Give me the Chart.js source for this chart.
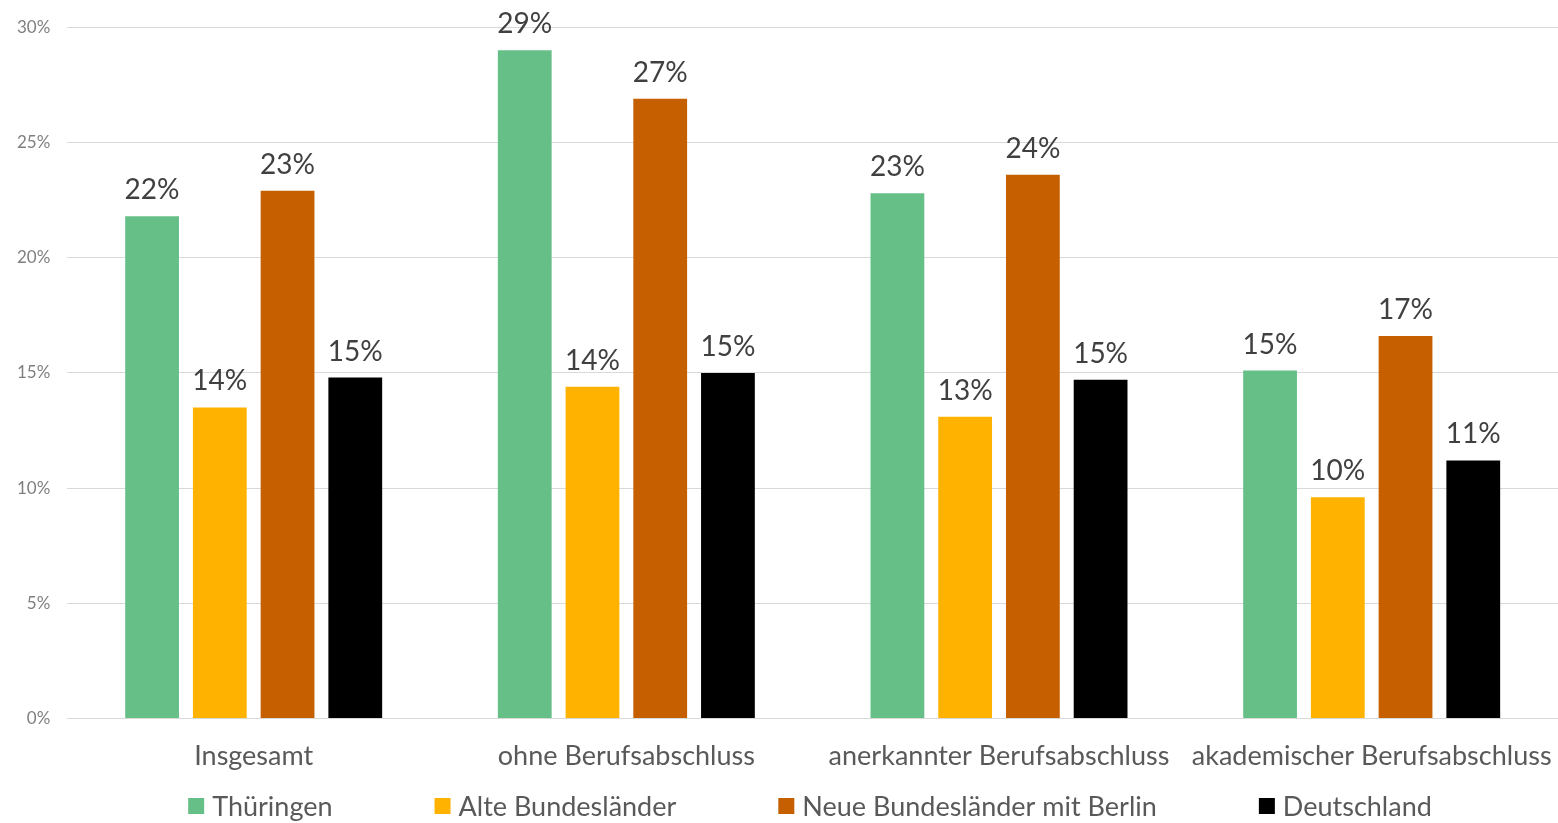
<!DOCTYPE html>
<html>
<head>
<meta charset="utf-8">
<script src="https://cdn.jsdelivr.net/npm/chart.js@4"></script>
<style>
  html, body { margin: 0; padding: 0; background: #fff; }
  #wrap { width: 1558px; height: 823px; }
</style>
</head>
<body>
<div id="wrap"><canvas id="chart"></canvas></div>
<script>
// categories and series, values in percent
const categories = ["Insgesamt", "ohne Berufsabschluss", "anerkannter Berufsabschluss", "akademischer Berufsabschluss"];
const thueringen = [21.8, 29.0, 22.8, 15.1];
const alteLaender = [13.5, 14.4, 13.1, 9.6];
const neueLaender = [22.9, 26.9, 23.6, 16.6];
const deutschland = [14.8, 15.0, 14.7, 11.2];
const yTicks = [0, 5, 10, 15, 20, 25, 30];

const FONT = "Lato, 'Open Sans', sans-serif";

// draws the rounded value above every bar
const valueLabels = {
    id: "valueLabels",
    afterDatasetsDraw(chart) {
        const ctx = chart.ctx;
        ctx.save();
        ctx.font = "28px " + FONT;
        ctx.fillStyle = "#404040";
        ctx.textAlign = "center";
        ctx.textBaseline = "alphabetic";
        chart.data.datasets.forEach((ds, i) => {
            chart.getDatasetMeta(i).data.forEach((bar, j) => {
                ctx.fillText(Math.round(ds.data[j]) + "%", bar.x, bar.y - 17);
            });
        });
        ctx.restore();
    }
};

// legend in one row with wide gaps (the built-in padding would also eat height)
const rowLegend = {
    id: "rowLegend",
    afterDraw(chart) {
        const ctx = chart.ctx;
        const box = 16, gapText = 8, gapItem = 102, y = 806;
        ctx.save();
        ctx.font = "27px " + FONT;
        ctx.textBaseline = "middle";
        const items = chart.data.datasets.map(ds => ({
            text: ds.label, color: ds.backgroundColor, w: ctx.measureText(ds.label).width
        }));
        const total = items.reduce((s, it) => s + box + gapText + it.w, 0) + gapItem * (items.length - 1);
        let x = 810 - total / 2;
        items.forEach(it => {
            ctx.fillStyle = it.color;
            ctx.fillRect(x, y - box / 2, box, box);
            x += box + gapText;
            ctx.fillStyle = "#595959";
            ctx.fillText(it.text, x, y + 1);
            x += it.w + gapItem;
        });
        ctx.restore();
    }
};

new Chart(document.getElementById("chart"), {
    type: "bar",
    data: {
        labels: categories,
        datasets: [
            { label: "Thüringen", data: thueringen, backgroundColor: "#66BF87" },
            { label: "Alte Bundesländer", data: alteLaender, backgroundColor: "#FFB300" },
            { label: "Neue Bundesländer mit Berlin", data: neueLaender, backgroundColor: "#C55F00" },
            { label: "Deutschland", data: deutschland, backgroundColor: "#000000" }
        ]
    },
    options: {
        responsive: true,
        maintainAspectRatio: false,
        animation: false,
        datasets: {
            bar: { barPercentage: 0.794, categoryPercentage: 0.727 }
        },
        layout: { padding: { top: 16, right: -12, left: 0, bottom: 38 } },
        scales: {
            x: {
                grid: { display: false },
                border: { display: false },
                ticks: { color: "#595959", font: { family: FONT, size: 27 }, padding: 13 },
                // the last label may run up to the edge, as in the original
                afterFit: s => { s.paddingLeft = 0; s.paddingRight = 0; }
            },
            y: {
                min: 0,
                max: 30,
                afterBuildTicks: axis => { axis.ticks = yTicks.map(v => ({ value: v })); },
                grid: { color: "#d9d9d9", lineWidth: 1, drawTicks: false },
                border: { display: false },
                ticks: {
                    color: "#7f7f7f",
                    font: { family: FONT, size: 17 },
                    padding: 17,
                    callback: v => v + "%"
                }
            }
        },
        plugins: {
            legend: { display: false },
            tooltip: { enabled: false }
        }
    },
    plugins: [valueLabels, rowLegend]
});
</script>
</body>
</html>
